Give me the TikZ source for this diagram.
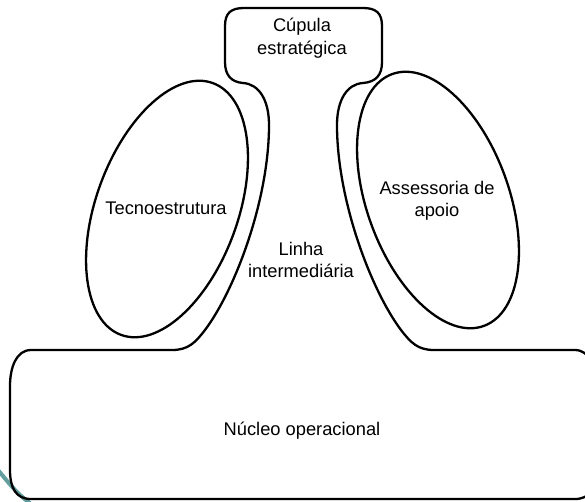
\documentclass[tikz,border=0pt]{standalone}
\usepackage{fontspec}
\setmainfont{Liberation Sans}
\definecolor{tealarc}{RGB}{98,158,158}
\begin{document}
\begin{tikzpicture}[x=1pt,y=-1pt,
  outline/.style={draw=black,line width=2.3pt,line join=round},
  lbl/.style={font=\fontsize{18.3}{22.5}\selectfont,align=center,inner sep=0pt,text=black}]
\useasboundingbox (0,0) rectangle (585,501);
\clip (0,0) rectangle (585,501);
\fill[white] (0,0) rectangle (585,501);
% decorative teal arc
\coordinate (ta) at (-2,470);
\coordinate (tb) at (30,503);
\draw[tealarc,line width=4pt] (ta) .. controls (8,482) and (17,494) .. (tb);
% main outline: top box, neck and base
\draw[outline]
  (225,62) -- (225,26) .. controls (225,13) and (231,8) .. (244,8)
  -- (363,8) .. controls (376,8) and (382,13) .. (382,26)
  -- (382,62) .. controls (382,75) and (376,82) .. (363,83)
  .. controls (347,84) and (337,100) .. (337,125)
  .. controls (337,200) and (371,290) .. (401,330)
  .. controls (411,343) and (418,350) .. (434,350)
  -- (575,350) .. controls (590,350) and (596,368) .. (596,386)
  -- (596,470) .. controls (596,488) and (590,499) .. (575,499)
  -- (31,499) .. controls (16,499) and (10,488) .. (10,470)
  -- (10,386) .. controls (10,368) and (16,350) .. (31,350)
  -- (172,350) .. controls (188,350) and (195,343) .. (205,330)
  .. controls (235,290) and (269,200) .. (269,125)
  .. controls (269,100) and (259,84) .. (243,83)
  .. controls (231,82) and (225,75) .. (225,62) -- cycle;
% ellipses
\draw[outline,shift={(167,209)},rotate=70] (0,0) ellipse [x radius=134pt, y radius=71pt];
\draw[outline,shift={(438,200)},rotate=110] (0,0) ellipse [x radius=134pt, y radius=71pt];
% labels
\node[lbl] (cupula) at (302,38) {Cúpula\\estratégica};
\node[lbl] (tecno) at (166,208) {Tecnoestrutura};
\node[lbl] (assess) at (437,201) {Assessoria de\\apoio};
\node[lbl] (linha) at (301,260) {Linha\\intermediária};
\node[lbl] (nucleo) at (302,431) {Núcleo operacional};
\end{tikzpicture}
\end{document}
